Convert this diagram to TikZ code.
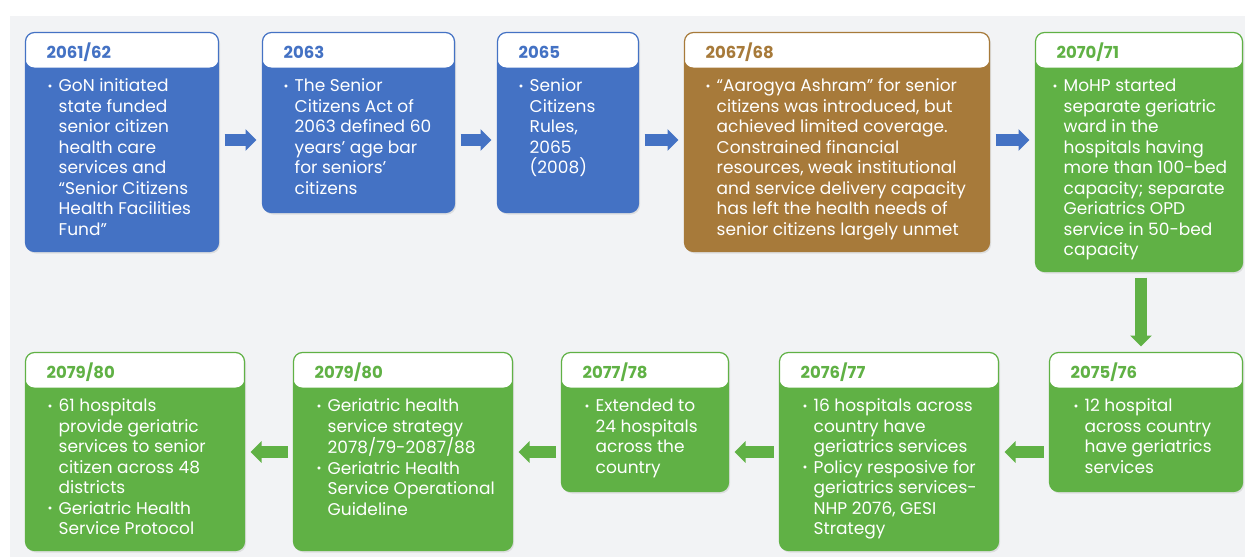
\documentclass[tikz,border=0pt]{standalone}
\usepackage{fontspec}
\setmainfont{Poppins}
\usetikzlibrary{positioning, arrows.meta, calc, shadows}
\definecolor{bgPage}{HTML}{F2F3F5}
\definecolor{stageBlue}{HTML}{4472C4}
\definecolor{stageBrown}{HTML}{A77A3A}
\definecolor{stageGreen}{HTML}{60B145}
\newcommand{\bodyfont}{\fontsize{17}{20.5}\selectfont}
\newcommand{\titlefont}{\fontsize{16.5}{20}\selectfont\bfseries}
\newcommand{\bul}{\strut\makebox[11pt][l]{\fontsize{12}{12}\selectfont\raisebox{1.5pt}{•}}}
\newcommand{\ind}{\hspace*{11pt}}
\tikzset{
  stage/.style={draw=#1, fill=#1, line width=1.2pt, rounded corners=9pt,
    anchor=north west, inner sep=0pt, outer sep=0pt,
    drop shadow={opacity=0.18, shadow xshift=1.5pt, shadow yshift=-2pt},
    path picture={\fill[white] (path picture bounding box.north west)
      rectangle ([yshift=-35pt]path picture bounding box.north east);}},
  yeartitle/.style={font=\titlefont, text=#1, anchor=base west, inner sep=0pt},
  stagetext/.style={font=\bodyfont, text=white, align=left, anchor=north west, inner sep=0pt},
  flowarrow/.style={draw=#1, line width=12pt, -{Triangle[length=11pt, width=21pt]},
    shorten <=6pt, shorten >=6pt},
}

\begin{document}
\begin{tikzpicture}[x=1pt, y=-1pt]

  \useasboundingbox (0,0) rectangle (1245,557);
  \fill[bgPage] (10,16) rectangle (1245,557);

  % === Row 1: 2061/62 to 2070/71 ===
  \node[stage=stageBlue, minimum width=193pt, minimum height=219pt] (y6162) at (25.5,32.5) {};
  \node[stage=stageBlue, minimum width=192pt, minimum height=180pt, right=44pt of y6162.north east, anchor=north west] (y2063) {};
  \node[stage=stageBlue, minimum width=141pt, minimum height=180pt, right=43pt of y2063.north east, anchor=north west] (y2065) {};
  \node[stage=stageBrown, minimum width=305pt, minimum height=219pt, right=46pt of y2065.north east, anchor=north west] (y6768) {};
  \node[stage=stageGreen, minimum width=207pt, minimum height=239pt, right=46pt of y6768.north east, anchor=north west] (y7071) {};

  % === Row 2: 2075/76 back to 2079/80 ===
  \node[stage=stageGreen, minimum width=193pt, minimum height=139pt, below=81pt of y7071.south east, anchor=north east] (y7576) {};
  \node[stage=stageGreen, minimum width=219pt, minimum height=198pt, left=51pt of y7576.north west, anchor=north east] (y7677) {};
  \node[stage=stageGreen, minimum width=167pt, minimum height=139pt, left=51pt of y7677.north west, anchor=north east] (y7778) {};
  \node[stage=stageGreen, minimum width=219pt, minimum height=198pt, left=49pt of y7778.north west, anchor=north east] (y7980a) {};
  \node[stage=stageGreen, minimum width=219pt, minimum height=198pt, left=49pt of y7980a.north west, anchor=north east] (y7980b) {};

  % Year titles
  \node[yeartitle=stageBlue] at ([xshift=21pt, yshift=-25.7pt]y6162.north west) {2061/62};
  \node[yeartitle=stageBlue] at ([xshift=21pt, yshift=-25.7pt]y2063.north west) {2063};
  \node[yeartitle=stageBlue] at ([xshift=21pt, yshift=-25.7pt]y2065.north west) {2065};
  \node[yeartitle=stageBrown] at ([xshift=21pt, yshift=-25.7pt]y6768.north west) {2067/68};
  \node[yeartitle=stageGreen] at ([xshift=21pt, yshift=-25.7pt]y7071.north west) {2070/71};
  \node[yeartitle=stageGreen] at ([xshift=21pt, yshift=-25.7pt]y7576.north west) {2075/76};
  \node[yeartitle=stageGreen] at ([xshift=21pt, yshift=-25.7pt]y7677.north west) {2076/77};
  \node[yeartitle=stageGreen] at ([xshift=21pt, yshift=-25.7pt]y7778.north west) {2077/78};
  \node[yeartitle=stageGreen] at ([xshift=21pt, yshift=-25.7pt]y7980a.north west) {2079/80};
  \node[yeartitle=stageGreen] at ([xshift=21pt, yshift=-25.7pt]y7980b.north west) {2079/80};

  % Bullet texts
  \node[stagetext] at ([xshift=22pt, yshift=-44.6pt]y6162.north west) {\bul GoN initiated\\ \ind state funded\\ \ind senior citizen\\ \ind health care\\ \ind services and\\ \ind “Senior Citizens\\ \ind Health Facilities\\ \ind Fund”};
  \node[stagetext] at ([xshift=21pt, yshift=-44.6pt]y2063.north west) {\bul The Senior\\ \ind Citizens Act of\\ \ind 2063 defined 60\\ \ind years’ age bar\\ \ind for seniors’\\ \ind citizens};
  \node[stagetext] at ([xshift=21pt, yshift=-44.6pt]y2065.north west) {\bul Senior\\ \ind Citizens\\ \ind Rules,\\ \ind 2065\\ \ind (2008)};
  \node[stagetext] at ([xshift=21pt, yshift=-44.6pt]y6768.north west) {\bul “Aarogya Ashram” for senior\\ \ind citizens was introduced, but\\ \ind achieved limited coverage.\\ \ind Constrained financial\\ \ind resources, weak institutional\\ \ind and service delivery capacity\\ \ind has left the health needs of\\ \ind senior citizens largely unmet};
  \node[stagetext] at ([xshift=17pt, yshift=-44.6pt]y7071.north west) {\bul MoHP started\\ \ind separate geriatric\\ \ind ward in the\\ \ind hospitals having\\ \ind more than 100-bed\\ \ind capacity; separate\\ \ind Geriatrics OPD\\ \ind service in 50-bed\\ \ind capacity};
  \node[stagetext] at ([xshift=24pt, yshift=-44.6pt]y7576.north west) {\bul 12 hospital\\ \ind across country\\ \ind have geriatrics\\ \ind services};
  \node[stagetext] at ([xshift=23pt, yshift=-44.6pt]y7677.north west) {\bul 16 hospitals across\\ \ind country have\\ \ind geriatrics services\\ \bul Policy resposive for\\ \ind geriatrics services-\\ \ind NHP 2076, GESI\\ \ind Strategy};
  \node[stagetext] at ([xshift=23pt, yshift=-44.6pt]y7778.north west) {\bul Extended to\\ \ind 24 hospitals\\ \ind across the\\ \ind country};
  \node[stagetext] at ([xshift=23pt, yshift=-44.6pt]y7980a.north west) {\bul Geriatric health\\ \ind service strategy\\ \ind 2078/79-2087/88\\ \bul Geriatric Health\\ \ind Service Operational\\ \ind Guideline};
  \node[stagetext] at ([xshift=22pt, yshift=-44.6pt]y7980b.north west) {\bul 61 hospitals\\ \ind provide geriatric\\ \ind services to senior\\ \ind citizen across 48\\ \ind districts\\ \bul Geriatric Health\\ \ind Service Protocol};

  % Arrows between stages
  \coordinate (toprow) at (0,140);
  \coordinate (botrow) at (0,452);
  \draw[flowarrow=stageBlue] (y6162.east |- toprow) -- (y2063.west |- toprow);
  \draw[flowarrow=stageBlue] (y2063.east |- toprow) -- (y2065.west |- toprow);
  \draw[flowarrow=stageBlue] (y2065.east |- toprow) -- (y6768.west |- toprow);
  \draw[flowarrow=stageBlue] (y6768.east |- toprow) -- (y7071.west |- toprow);
  \draw[flowarrow=stageGreen] ([xshift=2pt]y7071.south) -- ([xshift=2pt]y7071.south |- y7576.north);
  \draw[flowarrow=stageGreen] (y7576.west |- botrow) -- (y7677.east |- botrow);
  \draw[flowarrow=stageGreen] (y7677.west |- botrow) -- (y7778.east |- botrow);
  \draw[flowarrow=stageGreen] (y7778.west |- botrow) -- (y7980a.east |- botrow);
  \draw[flowarrow=stageGreen] (y7980a.west |- botrow) -- (y7980b.east |- botrow);

\end{tikzpicture}
\end{document}
